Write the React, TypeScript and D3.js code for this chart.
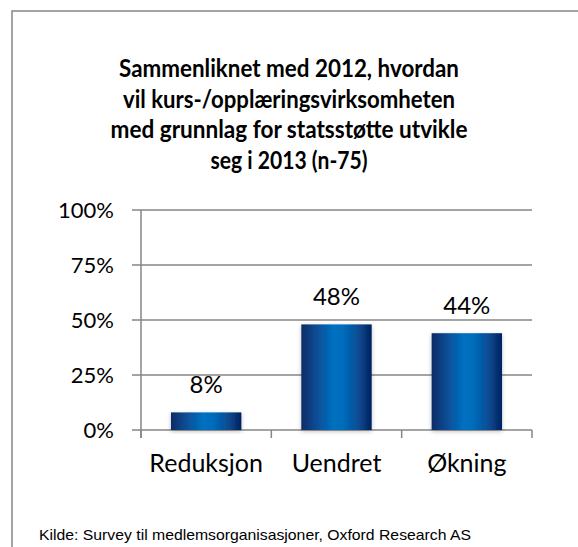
import React from 'react';
import * as d3 from 'd3';

const categories = ['Reduksjon', 'Uendret', 'Økning'];
const values = [0.08, 0.48, 0.44];
const valueLabels = ['8%', '48%', '44%'];
const yTicks = [0, 0.25, 0.5, 0.75, 1];
const titleLines = [
  'Sammenliknet med 2012, hvordan',
  'vil kurs-/opplæringsvirksomheten',
  'med grunnlag for statsstøtte utvikle',
  'seg i 2013 (n-75)',
];
const titleWidths = [340, 332, 357, 157];
const source = 'Kilde: Survey til medlemsorganisasjoner, Oxford Research AS';

const W = 578;
const H = 547;
const plot = { left: 141, right: 532, top: 210, bottom: 430 };
const font = 'Lato, "Noto Sans", sans-serif';

const App = () => {
  const x = d3.scaleBand<string>()
    .domain(categories)
    .range([plot.left, plot.right])
    .paddingInner(0.46)
    .paddingOuter(0.23);
  const y = d3.scaleLinear().domain([0, 1]).range([plot.bottom, plot.top]);
  const fmt = d3.format('.0%');
  const step = x.step();
  const catTicks = d3.range(categories.length + 1).map(i => plot.left + i * step);

  return (
    <svg width={W} height={H} style={{ position: 'absolute', left: 0, top: 0, background: '#fff' }}>
      <defs>
        <linearGradient id="barGrad" x1="0" x2="1" y1="0" y2="0">
          <stop offset="0" stopColor="#0a2b66" />
          <stop offset="0.2" stopColor="#0c4a91" />
          <stop offset="0.45" stopColor="#0070c0" />
          <stop offset="0.6" stopColor="#006cbb" />
          <stop offset="0.82" stopColor="#0a4a90" />
          <stop offset="1" stopColor="#03215e" />
        </linearGradient>
        <filter id="shadow" x="-20%" y="-20%" width="140%" height="140%">
          <feDropShadow dx="0" dy="1.5" stdDeviation="2" floodColor="#000" floodOpacity="0.25" />
        </filter>
      </defs>

      <rect x={12} y={11} width={W} height={H} fill="#fff" stroke="#868686" strokeWidth={1.5} />

      <g fontFamily={font} fontWeight="bold" fontSize={24} textAnchor="middle" fill="#000">
        {titleLines.map((t, i) => (
          <text key={i} x={289} y={77 + i * 30.5} textLength={titleWidths[i]} lengthAdjust="spacingAndGlyphs">{t}</text>
        ))}
      </g>

      {/* gridlines */}
      <g stroke="#868686" strokeWidth={1.5}>
        {yTicks.map(t => (
          <line key={t} x1={plot.left - 9} x2={plot.right} y1={y(t)} y2={y(t)} />
        ))}
        <line x1={plot.left} x2={plot.left} y1={plot.top} y2={plot.bottom + 8} />
        {catTicks.map((cx, i) => (
          <line key={i} x1={cx} x2={cx} y1={plot.bottom} y2={plot.bottom + 8} />
        ))}
      </g>

      <g fontFamily={font} fontSize={22} textAnchor="end" fill="#000">
        {yTicks.map(t => (
          <text key={t} x={114} y={y(t) + 8}>{fmt(t)}</text>
        ))}
      </g>

      {categories.map((c, i) => (
        <g key={c}>
          <rect
            x={x(c)}
            y={y(values[i])}
            width={x.bandwidth()}
            height={plot.bottom - y(values[i])}
            fill="url(#barGrad)"
            filter="url(#shadow)"
          />
          <text
            x={(x(c) ?? 0) + x.bandwidth() / 2}
            y={y(values[i]) - 19}
            textAnchor="middle"
            fontFamily={font}
            fontSize={24}
          >{valueLabels[i]}</text>
          <text
            x={(x(c) ?? 0) + x.bandwidth() / 2}
            y={472}
            textAnchor="middle"
            fontFamily={font}
            fontSize={25}
          >{c}</text>
        </g>
      ))}

      <text x={39} y={540} fontFamily='"Liberation Sans", Arial, sans-serif' fontSize={15} textLength={432} lengthAdjust="spacingAndGlyphs">{source}</text>
    </svg>
  );
};

export default App;
